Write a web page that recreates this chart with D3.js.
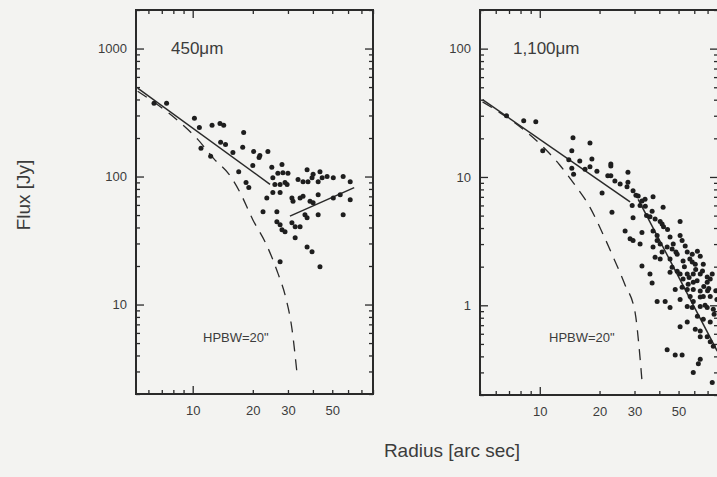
<!DOCTYPE html>
<html>
<head>
<meta charset="utf-8">
<script src="https://cdn.jsdelivr.net/npm/d3@7"></script>
<style>
  body { margin: 0; background: #f3f3f1; }
  svg { display: block; }
  text { font-family: "Liberation Sans", Arial, sans-serif; fill: #3c3c3c; }
</style>
</head>
<body>
<script>
// Puntos observados 450um (radio en arcsec, flujo en Jy)
const r450 = [6.4, 7.4, 10.2, 10.8, 12.5, 13.7, 14.3, 18.0, 13.8, 14.6, 11.0, 12.3, 15.9, 17.8, 20.2,
  21.5, 20.0, 17.0, 18.5, 19.1, 23.8, 21.7, 24.9, 28.0, 25.2, 26.7, 28.3, 30.0, 25.8, 27.4, 29.0, 37.4,
  33.7, 35.7, 37.8, 39.6, 40.1, 43.4, 44.5, 42.5, 47.1, 50.6, 56.7, 61.5, 25.2, 27.4, 23.5, 31.4, 31.8,
  34.5, 35.7, 38.7, 40.1, 42.5, 50.6, 54.8, 61.5, 22.5, 26.4, 36.5, 37.4, 42.5, 56.7, 26.4, 27.4, 28.0,
  29.0, 31.4, 32.6, 34.5, 32.6, 37.4, 39.6, 27.4, 43.4, 29.7];
const f450 = [374, 374, 285, 242, 251, 260, 251, 221, 185, 178, 166, 144, 154, 169, 157,
  141, 122, 109, 90, 82, 157, 146, 118, 124, 98, 106, 107, 106, 86.5, 86.5, 90, 113,
  95, 91, 91, 98, 104, 109, 98, 91, 100, 98, 100, 91, 75, 75, 68, 68, 64,
  68, 70, 64, 62.5, 72, 68, 72, 66, 53, 53, 50.3, 47.7, 50.3, 50.3, 44.4, 42, 38.4,
  37, 43.6, 40.5, 40.5, 33.2, 28.2, 25.8, 21.6, 19.7, 86.5];

// Puntos observados 1100um
const r1100 = [6.8, 8.3, 9.55, 10.35, 14.7, 14.5, 17.9, 14.0, 15.9, 18.3, 14.5, 16.9, 17.9, 19.4, 14.8,
  22.0, 20.6, 22.8, 22.8, 22.8, 23.9, 25.4, 27.8, 27.8, 27.5, 29.5, 31.3, 32.7, 33.9, 37.2, 29.2, 32.0,
  23.1, 36.8, 41.8, 35.9, 38.1, 40.4, 41.3, 29.5, 50.9, 26.9, 32.7, 37.2, 39.0, 45.3, 50.9, 52.1, 28.5,
  29.5, 32.0, 39.0, 40.4, 37.2, 43.8, 46.4, 41.3, 49.2, 55.3, 58.6, 62.2, 64.3, 38.1, 40.4, 45.3, 52.7,
  58.6, 60.7, 66.6, 32.7, 35.9, 46.4, 49.2, 50.9, 55.3, 59.3, 64.3, 69.7, 73.9, 36.8, 45.3, 52.7, 55.9,
  59.3, 69.7, 72.2, 48.1, 52.1, 55.3, 59.3, 64.3, 39.0, 42.8, 50.9, 45.3, 57.2, 59.3, 64.3, 66.6, 72.2,
  55.3, 58.6, 64.3, 69.7, 74.8, 62.2, 66.6, 72.2, 55.3, 50.9, 60.7, 64.3, 64.3, 69.7, 72.2, 74.8, 43.8,
  48.1, 52.1, 64.3, 62.9, 59.3, 73.9, 78.0, 34.5, 44.0, 47.0, 54.0, 57.0, 61.0, 67.0, 70.0, 62.0, 68.0,
  30.5, 34.0, 42.0, 48.5, 53.5, 56.5, 66.0, 71.0, 75.5, 77.0];
const f1100 = [30.0, 27.4, 26.9, 16.0, 20.2, 16.0, 18.4, 13.6, 13.3, 13.8, 11.7, 11.5, 12.0, 11.1, 10.5,
  10.2, 7.5, 12.6, 12.2, 10.2, 9.3, 8.8, 10.9, 9.1, 8.4, 7.8, 7.1, 6.5, 6.7, 7.0, 6.0, 6.0,
  5.3, 5.4, 5.8, 4.9, 4.7, 4.5, 4.3, 4.8, 4.5, 3.8, 3.7, 3.8, 3.5, 3.4, 3.5, 3.2, 3.3,
  3.2, 3.0, 3.2, 3.0, 2.84, 2.84, 2.74, 2.6, 2.5, 2.6, 2.5, 2.64, 2.41, 2.37, 2.29, 2.29, 2.21,
  2.17, 2.09, 2.09, 2.02, 1.75, 1.98, 1.84, 1.75, 1.75, 1.75, 1.75, 1.66, 1.75, 1.49, 1.81, 1.60, 1.46,
  1.51, 1.51, 1.60, 1.33, 1.38, 1.33, 1.33, 1.29, 1.07, 1.07, 1.11, 0.96, 1.17, 1.07, 1.16, 1.17, 1.17,
  0.98, 0.96, 0.98, 0.96, 0.93, 0.82, 0.78, 0.74, 0.74, 0.68, 0.65, 0.63, 0.57, 0.57, 0.52, 0.48, 0.45,
  0.41, 0.41, 0.38, 0.35, 0.30, 0.25, 1.11, 5.0, 3.9, 3.0, 2.9, 2.3, 1.9, 1.4, 1.3, 1.55, 1.0,
  7.2, 5.9, 4.1, 2.6, 2.0, 1.65, 1.85, 1.35, 0.85, 1.3];

// Perfil del haz (linea punteada)
const beamR450 = [5.3, 8.5, 10.6, 12.75, 15.5, 17.2, 20.0, 23.3, 26.7, 29.3, 31.4, 33.3];
const beamF450 = [464, 270, 195, 138, 100, 76, 46, 29.8, 17.6, 11.2, 6.5, 2.9];
const beamR1100 = [5.15, 8.3, 10.5, 12.6, 15.0, 17.9, 20.3, 23.1, 26.8, 30.2, 31.6, 32.7];
const beamF1100 = [38.5, 23.3, 16.9, 12.4, 8.7, 5.8, 3.9, 2.5, 1.46, 0.88, 0.48, 0.26];

// Ajustes (rectas en log-log)
const fitR450a = [5.3, 24.4], fitF450a = [490, 87];
const fitR450b = [30.7, 64.4], fitF450b = [49, 82];
const fitR1100a = [5.15, 28.5], fitF1100a = [40, 6.4];
const fitR1100b = [31.3, 78.3], fitF1100b = [6.7, 0.44];

// Etiquetas de ticks
const xLabels = [10, 20, 30, 50];
const yLabels450 = [10, 100, 1000];
const yLabels1100 = [1, 10, 100];

const svg = d3.select("body").append("svg").attr("width", 717).attr("height", 477);
svg.append("rect").attr("width", 717).attr("height", 477).attr("fill", "#f3f3f1");

const ink = "#2a2a2a";

function dibujarPanel(p) {
  const x = d3.scaleLog().domain(p.xDom).range([p.left, p.right]);
  const y = d3.scaleLog().domain(p.yDom).range([p.bottom, p.top]);
  const g = svg.append("g");

  const xTicks = x.ticks();
  const yTicks = y.ticks();

  function estilo(ax) {
    ax.select(".domain").remove();
    ax.selectAll(".tick line").attr("stroke", ink).attr("stroke-width", 1.3);
    ax.selectAll("text").attr("font-size", 13).attr("font-family", '"Liberation Sans", Arial, sans-serif').attr("fill", "#444");
  }

  // eje inferior
  const axB = g.append("g").attr("transform", `translate(0,${p.bottom})`)
    .call(d3.axisBottom(x).tickValues(xTicks).tickSize(-4).tickPadding(12)
      .tickFormat(d => xLabels.includes(d) ? d : ""));
  estilo(axB);
  axB.selectAll(".tick line").attr("y2", d => d === 10 ? -8 : -4);

  // eje superior
  const axT = g.append("g").attr("transform", `translate(0,${p.top})`)
    .call(d3.axisTop(x).tickValues(xTicks).tickSize(-4).tickFormat(""));
  estilo(axT);
  axT.selectAll(".tick line").attr("y2", d => d === 10 ? 8 : 4);

  // eje izquierdo
  const axL = g.append("g").attr("transform", `translate(${p.left},0)`)
    .call(d3.axisLeft(y).tickValues(yTicks).tickSize(-4).tickPadding(9)
      .tickFormat(d => p.yLabels.includes(d) ? d : ""));
  estilo(axL);
  axL.selectAll(".tick line").attr("x2", d => p.yLabels.includes(d) ? 8 : 4);

  // eje derecho
  const axR = g.append("g").attr("transform", `translate(${p.right},0)`)
    .call(d3.axisRight(y).tickValues(yTicks).tickSize(-4).tickFormat(""));
  estilo(axR);
  axR.selectAll(".tick line").attr("x2", d => p.yLabels.includes(d) ? -8 : -4);

  // marco
  g.append("rect")
    .attr("x", p.left).attr("y", p.top)
    .attr("width", p.right - p.left).attr("height", p.bottom - p.top)
    .attr("fill", "none").attr("stroke", ink).attr("stroke-width", 2);

  const linea = d3.line().x(d => x(d[0])).y(d => y(d[1]));

  // haz
  g.append("path")
    .attr("d", linea.curve(d3.curveMonotoneX)(d3.zip(p.beamR, p.beamF)))
    .attr("fill", "none").attr("stroke", ink).attr("stroke-width", 1.3)
    .attr("stroke-dasharray", "11,8");

  // ajustes
  linea.curve(d3.curveLinear);
  p.fits.forEach(f => {
    g.append("path").attr("d", linea(d3.zip(f[0], f[1])))
      .attr("fill", "none").attr("stroke", ink).attr("stroke-width", 1.5);
  });

  // puntos
  g.selectAll("circle.pt")
    .data(d3.zip(p.r, p.f))
    .join("circle")
    .attr("class", "pt")
    .attr("cx", d => x(d[0]))
    .attr("cy", d => y(d[1]))
    .attr("r", 2.5)
    .attr("fill", "#1e1e1e");

  // textos
  g.append("text").attr("x", p.titleX).attr("y", 54)
    .attr("font-size", 17).text(p.title);
  g.append("text").attr("x", p.hpbwX).attr("y", 342)
    .attr("font-size", 13).text('HPBW=20"');
}

dibujarPanel({
  left: 136, right: 373, top: 10, bottom: 394,
  xDom: [5.2, 80], yDom: [2, 2000], yLabels: yLabels450,
  r: r450, f: f450, beamR: beamR450, beamF: beamF450,
  fits: [[fitR450a, fitF450a], [fitR450b, fitF450b]],
  title: "450\u03bcm", titleX: 171, hpbwX: 203
});

dibujarPanel({
  left: 480, right: 718, top: 10, bottom: 395,
  xDom: [5, 79], yDom: [0.2, 200], yLabels: yLabels1100,
  r: r1100, f: f1100, beamR: beamR1100, beamF: beamF1100,
  fits: [[fitR1100a, fitF1100a], [fitR1100b, fitF1100b]],
  title: "1,100\u03bcm", titleX: 513, hpbwX: 549
});

// titulos de ejes
svg.append("text")
  .attr("transform", "translate(30,195) rotate(-90)")
  .attr("text-anchor", "middle")
  .attr("font-size", 19)
  .text("Flux [Jy]");

svg.append("text")
  .attr("x", 452).attr("y", 457)
  .attr("text-anchor", "middle")
  .attr("font-size", 19)
  .text("Radius [arc sec]");
</script>
</body>
</html>
